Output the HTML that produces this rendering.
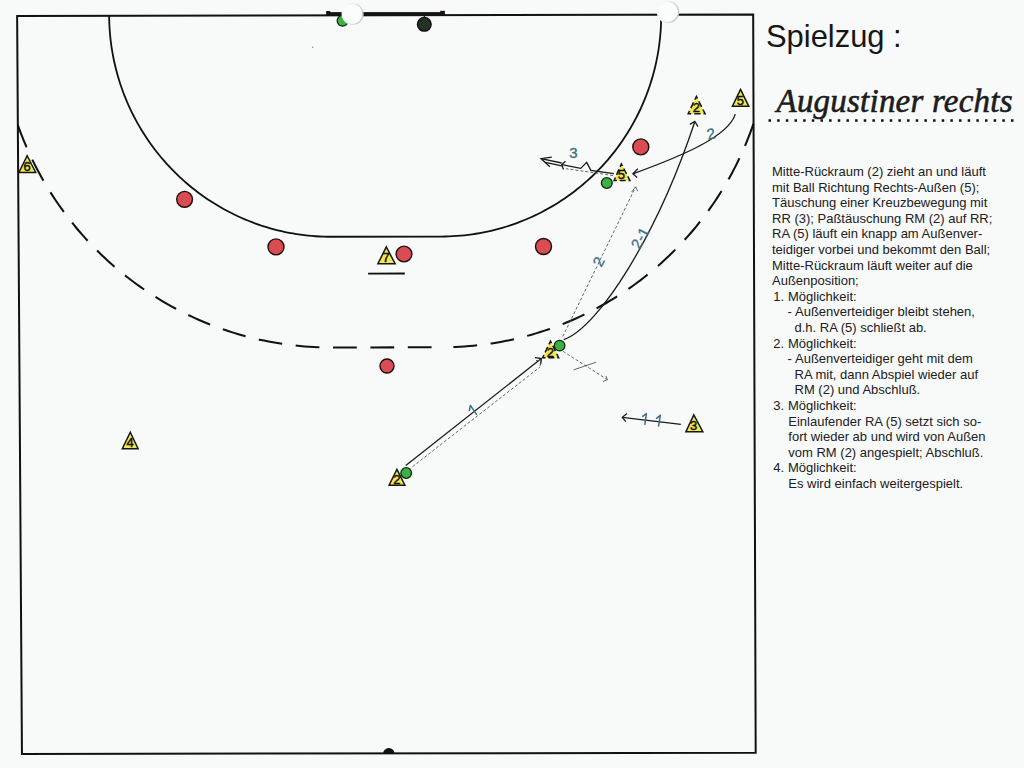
<!DOCTYPE html>
<html><head><meta charset="utf-8">
<style>
html,body{margin:0;padding:0;background:#f8f9f9;width:1024px;height:768px;overflow:hidden;}
svg{position:absolute;left:0;top:0;}
.dg{font-family:"Liberation Sans",sans-serif;font-size:13px;fill:#111;stroke:#111;stroke-width:0.45px;text-anchor:middle;}
.t{position:absolute;font-family:"Liberation Sans",sans-serif;color:#1e1e1e;white-space:pre;}
#title{left:766px;top:19px;font-size:30.9px;line-height:36px;color:#161616;}
#sub{left:776.5px;top:82px;font-family:"Liberation Serif",serif;font-style:italic;font-size:33px;line-height:38px;color:#1c1c1c;-webkit-text-stroke:0.6px #1c1c1c;letter-spacing:0.22px;}
.b{font-size:13px;line-height:15.63px;color:#202020;}
</style></head><body>
<svg width="1024" height="768" viewBox="0 0 1024 768">
<g fill="none" stroke="#111" stroke-width="1.8">
  <!-- court outline -->
  <path d="M17.13,15.96 L753.18,14.42 L755.69,752.80 L21.95,753.98 Z" stroke-width="2"/>
  <!-- goal area -->
  <path d="M109.14,15.77 L109.19,19.63 L109.32,23.49 L109.51,27.36 L109.77,31.21 L110.09,35.06 L110.49,38.91 L110.95,42.75 L111.47,46.58 L112.07,50.40 L112.73,54.21 L113.45,58.01 L114.24,61.79 L115.10,65.56 L116.02,69.32 L117.01,73.06 L118.06,76.78 L119.18,80.48 L120.36,84.17 L121.61,87.83 L122.91,91.47 L124.28,95.09 L125.72,98.68 L127.21,102.25 L128.77,105.79 L130.39,109.30 L132.07,112.79 L133.81,116.24 L135.61,119.67 L137.47,123.06 L139.39,126.42 L141.36,129.74 L143.39,133.03 L145.48,136.29 L147.63,139.51 L149.83,142.69 L152.08,145.83 L154.39,148.93 L156.76,151.99 L159.17,155.01 L161.64,157.99 L164.16,160.92 L166.73,163.81 L169.35,166.66 L172.01,169.46 L174.73,172.21 L177.49,174.91 L180.30,177.56 L183.16,180.17 L186.06,182.72 L189.00,185.23 L191.98,187.68 L195.01,190.08 L198.08,192.43 L201.19,194.72 L204.34,196.96 L207.52,199.14 L210.75,201.27 L214.01,203.34 L217.30,205.35 L220.63,207.31 L223.99,209.20 L227.39,211.04 L230.81,212.82 L234.27,214.53 L237.75,216.19 L241.27,217.79 L244.81,219.32 L248.37,220.79 L251.96,222.20 L255.58,223.55 L259.21,224.83 L262.87,226.05 L266.55,227.21 L270.25,228.30 L273.96,229.32 L277.70,230.28 L281.45,231.18 L285.21,232.01 L288.99,232.77 L292.78,233.47 L296.58,234.10 L300.39,234.66 L304.21,235.16 L308.04,235.59 L311.87,235.95 L315.71,236.25 L319.56,236.48 L323.40,236.64 L327.25,236.73 L331.10,236.76 L441.41,236.54 L445.26,236.50 L449.10,236.39 L452.95,236.22 L456.79,235.97 L460.63,235.66 L464.46,235.28 L468.28,234.84 L472.10,234.33 L475.90,233.75 L479.70,233.10 L483.48,232.39 L487.25,231.61 L491.01,230.77 L494.75,229.86 L498.47,228.88 L502.18,227.84 L505.86,226.74 L509.53,225.57 L513.18,224.34 L516.80,223.04 L520.40,221.68 L523.98,220.25 L527.53,218.77 L531.05,217.22 L534.55,215.61 L538.02,213.94 L541.46,212.21 L544.86,210.42 L548.24,208.56 L551.58,206.65 L554.89,204.69 L558.17,202.66 L561.41,200.58 L564.61,198.44 L567.77,196.24 L570.90,193.99 L573.99,191.68 L577.03,189.33 L580.03,186.91 L583.00,184.45 L585.91,181.93 L588.79,179.36 L591.62,176.75 L594.40,174.08 L597.14,171.37 L599.82,168.60 L602.46,165.79 L605.05,162.94 L607.59,160.04 L610.08,157.09 L612.52,154.11 L614.91,151.08 L617.24,148.00 L619.52,144.89 L621.74,141.74 L623.91,138.55 L626.03,135.32 L628.08,132.06 L630.08,128.76 L632.02,125.42 L633.91,122.05 L635.73,118.65 L637.50,115.22 L639.20,111.76 L640.85,108.26 L642.43,104.74 L643.95,101.20 L645.42,97.62 L646.81,94.02 L648.15,90.40 L649.42,86.75 L650.63,83.08 L651.77,79.39 L652.85,75.68 L653.87,71.96 L654.82,68.21 L655.70,64.45 L656.52,60.67 L657.28,56.89 L657.97,53.08 L658.59,49.27 L659.14,45.44 L659.63,41.61 L660.05,37.77 L660.41,33.92 L660.69,30.06 L660.92,26.21 L661.07,22.34 L661.15,18.48 L661.17,14.61"/>
  <!-- 7m line -->
  <path d="M368.06,273.60 L404.82,273.52"/>
</g>
<!-- goal -->
<rect x="326.2" y="12.1" width="118.7" height="3.4" fill="#141414"/>
<rect x="326.2" y="11" width="4.1" height="2" fill="#141414"/>
<rect x="440.2" y="10.8" width="4.7" height="2" fill="#141414"/>
<!-- 9m dashed line -->
<g fill="none" stroke="#111" stroke-width="2.05" stroke-dasharray="23.8 13.6">
  <path d="M17.84,125.11 L19.39,129.41 L21.00,133.68 L22.67,137.93 L24.40,142.16 L26.18,146.36 L28.02,150.54 L29.92,154.69 L31.88,158.82 L33.89,162.92 L35.95,166.99 L38.07,171.03 L40.25,175.05 L42.48,179.03 L44.77,182.98 L47.10,186.90 L49.50,190.79 L51.94,194.65 L54.44,198.47 L56.99,202.26 L59.59,206.01 L62.24,209.72 L64.94,213.40 L67.69,217.05 L70.49,220.65 L73.34,224.22 L76.24,227.74 L79.18,231.23 L82.17,234.67 L85.21,238.08 L88.30,241.44 L91.43,244.76 L94.60,248.03 L97.82,251.27 L101.09,254.46 L104.39,257.60 L107.74,260.69 L111.13,263.75 L114.56,266.75 L118.04,269.71 L121.55,272.61 L125.10,275.48 L128.69,278.29 L132.32,281.05 L135.98,283.76 L139.68,286.42 L143.42,289.03 L147.19,291.59 L151.00,294.09 L154.84,296.55 L158.71,298.95 L162.61,301.30 L166.55,303.59 L170.52,305.83 L174.51,308.01 L178.54,310.14 L182.59,312.21 L186.68,314.23 L190.78,316.19 L194.92,318.10 L199.08,319.94 L203.27,321.73 L207.47,323.46 L211.71,325.14 L215.96,326.75 L220.24,328.31 L224.53,329.81 L228.85,331.25 L233.18,332.62 L237.54,333.94 L241.91,335.20 L246.29,336.40 L250.70,337.54 L255.11,338.62 L259.55,339.63 L263.99,340.59 L268.45,341.48 L272.92,342.31 L277.40,343.09 L281.89,343.79 L286.38,344.44 L290.89,345.03 L295.40,345.55 L299.93,346.01 L304.45,346.41 L308.98,346.74 L313.52,347.02 L318.05,347.23 L322.59,347.38 L327.14,347.46 L331.68,347.48 L441.93,347.28"/>
  <path d="M753.55,123.63 L752.04,127.93 L750.47,132.21 L748.85,136.47 L747.16,140.70 L745.42,144.92 L743.62,149.10 L741.77,153.27 L739.85,157.40 L737.88,161.51 L735.86,165.59 L733.78,169.65 L731.64,173.67 L729.45,177.66 L727.20,181.63 L724.90,185.56 L722.55,189.46 L720.14,193.33 L717.69,197.16 L715.17,200.96 L712.61,204.72 L710.00,208.45 L707.33,212.14 L704.62,215.80 L701.85,219.41 L699.04,222.99 L696.18,226.53 L693.27,230.03 L690.31,233.49 L687.30,236.91 L684.25,240.28 L681.15,243.61 L678.01,246.90 L674.82,250.15 L671.59,253.35 L668.32,256.51 L665.00,259.62 L661.64,262.68 L658.24,265.70 L654.80,268.67 L651.31,271.60 L647.79,274.47 L644.23,277.30 L640.63,280.07 L636.99,282.80 L633.32,285.47 L629.61,288.10 L625.86,290.67 L622.08,293.19 L618.26,295.66 L614.42,298.08 L610.53,300.44 L606.62,302.75 L602.68,305.00 L598.70,307.20 L594.70,309.35 L590.66,311.44 L586.60,313.47 L582.51,315.45 L578.39,317.37 L574.25,319.23 L570.09,321.04 L565.89,322.79 L561.68,324.48 L557.44,326.11 L553.18,327.68 L548.90,329.20 L544.60,330.65 L540.28,332.05 L535.94,333.38 L531.58,334.66 L527.20,335.87 L522.81,337.03 L518.40,338.12 L513.98,339.15 L509.55,340.13 L505.10,341.04 L500.64,341.89 L496.17,342.67 L491.69,343.40 L487.19,344.06 L482.69,344.67 L478.18,345.21 L473.67,345.68 L469.15,346.10 L464.62,346.45 L460.09,346.74 L455.55,346.97 L451.01,347.13 L446.47,347.24 L441.93,347.28"/>
</g>
<!-- center mark -->
<path d="M383.12,753.69 A5.7,5.7 0 0 1 394.52,753.49 Z" fill="#111"/>

<!-- defenders red -->
<g fill="#da4c53" stroke="#1e0c0c" stroke-width="1.4">
  <circle cx="184.6" cy="199.3" r="7.9"/>
  <circle cx="276" cy="246.9" r="8"/>
  <circle cx="404" cy="254" r="7.9"/>
  <circle cx="543.5" cy="246.5" r="8.0"/>
  <circle cx="387" cy="366" r="7.0"/>
  <circle cx="640.8" cy="146.9" r="8"/>
</g>
<!-- goalkeeper -->
<circle cx="424.3" cy="24.3" r="6.9" fill="#243024" stroke="#0e0e0e" stroke-width="1.3"/>
<rect x="423.8" y="15" width="1.2" height="3" fill="#141414"/>

<!-- arrows / lines -->
<g fill="none" stroke="#1a1a1a" stroke-width="1.3">
  <!-- 1: bottom 2 to middle 2 -->
  <path d="M405.8,465.5 L541.3,358.6"/>
  <path d="M535,357.6 L541.3,358.6 L540.5,364.5"/>
  <!-- 2-1 curve -->
  <path d="M563.7,339.7 C599.1,327.2 657.6,233.9 694.8,121.7"/>
  <path d="M689.9,124.4 L694.8,121.5 L698,126.6"/>
  <!-- 2 curve from top-right 5 -->
  <path d="M735.3,114.1 C728.6,135.8 685.2,154.8 632.9,173.8"/>
  <path d="M637.9,168.8 L632.9,173.8 L637.2,177.4"/>
  <!-- 3 with zigzag -->
  <path d="M613.8,173.6 L590.9,170.3 L586.7,162.4 L580.7,168.4 L561.7,164.6"/>
  <path d="M561.7,163 L541,158.6 M545.5,162.4 L561.7,165.9"/>
  <path d="M551.8,157.1 L541,158.6 L549.9,166.8"/>
  <path d="M565.5,161.3 L561.7,164.7 L563.5,169.4"/>
  <!-- 1-1 arrow -->
  <path d="M680.9,424.3 L622.3,417.3"/>
  <path d="M627,413.5 L622.3,417.3 L625.8,421.7"/>
</g>
<!-- dashed pass lines -->
<g fill="none" stroke="#555" stroke-width="0.9" stroke-dasharray="3 2">
  <path d="M412.5,466.7 L540,367"/>
  <path d="M562.8,336.5 L635.6,187"/>
  <path d="M563,351.3 L607.4,379.6"/>
  <path d="M613,175.5 L566,168.7"/>
</g>
<g fill="none" stroke="#555" stroke-width="0.9">
  <path d="M536,360.5 L541.7,360.5 L540,366"/>
  <path d="M631.6,192 L635.6,186.8 L637.8,191.3"/>
  <path d="M603,381.5 L607.4,379.6 L606,376"/>
  <path d="M573.7,369.8 L596.2,362.2"/>
</g>

<!-- teal labels -->
<g fill="#3a6e83" stroke="#3a6e83" stroke-width="0.3" font-family="Liberation Sans" font-size="15" text-anchor="middle">
  <text x="573.3" y="157.9">3</text>
  <text x="711" y="139" transform="rotate(-12 711 134)">2</text>
  <text x="598.4" y="267" transform="rotate(-62 598.4 261.6)">2</text>
  <text x="640.3" y="243" transform="rotate(-62 640.3 238)">2-1</text>
</g>
<g fill="none" stroke="#3a6e83" stroke-width="1.5" stroke-linecap="round" stroke-linejoin="round">
  <path d="M469.4,410.4 L470.4,405.4 L476.5,414.3"/>
  <path d="M642.6,416.4 L646.4,413.5 L644.9,424.4"/>
  <path d="M656.5,418.4 L660.3,415.3 L658.6,426.1"/>
</g>

<!-- attackers yellow triangles -->
<path d="M27.20,155.72 L35.70,172.50 L18.90,172.50 Z" fill="#f1e74f" stroke="none"/>
<path d="M27.20,155.72 L35.70,172.50 L18.90,172.50 Z" fill="none" stroke="#151515" stroke-width="1.5"/>
<text x="27.1" y="171.2" class="dg">6</text>
<path d="M130.30,432.23 L138.10,448.70 L122.30,448.70 Z" fill="#f1e74f" stroke="none"/>
<path d="M130.30,432.23 L138.10,448.70 L122.30,448.70 Z" fill="none" stroke="#151515" stroke-width="1.5"/>
<text x="130.2" y="447.4" class="dg">4</text>
<path d="M386.30,246.93 L395.10,263.70 L377.90,263.70 Z" fill="#f1e74f" stroke="none"/>
<path d="M386.30,246.93 L395.10,263.70 L377.90,263.70 Z" fill="none" stroke="#151515" stroke-width="1.5"/>
<text x="386.2" y="262.4" class="dg">7</text>
<path d="M396.90,469.43 L404.90,485.20 L389.10,485.20 Z" fill="#f1e74f" stroke="none"/>
<path d="M396.90,469.43 L404.90,485.20 L389.10,485.20 Z" fill="none" stroke="#151515" stroke-width="1.5"/>
<text x="396.8" y="483.9" class="dg">2</text>
<path d="M550.50,341.12 L558.70,357.80 L542.60,357.80 Z" fill="#f1e74f" stroke="none"/>
<path d="M550.50,341.12 L558.70,357.80 L542.60,357.80 Z" fill="none" stroke="#151515" stroke-width="1.5" stroke-dasharray="6.04 2.84" stroke-dashoffset="3.73"/>
<text x="550.4" y="356.5" class="dg">2</text>
<path d="M621.40,163.93 L629.90,180.40 L614.10,180.40 Z" fill="#f1e74f" stroke="none"/>
<path d="M621.40,163.93 L629.90,180.40 L614.10,180.40 Z" fill="none" stroke="#151515" stroke-width="1.5" stroke-dasharray="5.99 2.82" stroke-dashoffset="3.70"/>
<text x="621.3" y="179.1" class="dg">5</text>
<path d="M696.40,96.42 L705.10,113.70 L688.20,113.70 Z" fill="#f1e74f" stroke="none"/>
<path d="M696.40,96.42 L705.10,113.70 L688.20,113.70 Z" fill="none" stroke="#151515" stroke-width="1.5" stroke-dasharray="6.30 2.96" stroke-dashoffset="3.89"/>
<text x="696.3" y="112.4" class="dg">2</text>
<path d="M740.50,89.42 L748.80,106.30 L732.40,106.30 Z" fill="#f1e74f" stroke="none"/>
<path d="M740.50,89.42 L748.80,106.30 L732.40,106.30 Z" fill="none" stroke="#151515" stroke-width="1.5"/>
<text x="740.4" y="105.0" class="dg">5</text>
<path d="M693.80,414.93 L702.80,431.70 L685.90,431.70 Z" fill="#f1e74f" stroke="none"/>
<path d="M693.80,414.93 L702.80,431.70 L685.90,431.70 Z" fill="none" stroke="#151515" stroke-width="1.5"/>
<text x="693.7" y="430.4" class="dg">3</text>
<!-- green balls / players -->
<g fill="#3fb044" stroke="#0c2a0c" stroke-width="1.3">
  <circle cx="406.2" cy="473" r="5.3"/>
  <circle cx="559.6" cy="345.6" r="5.3"/>
  <circle cx="606.8" cy="183" r="5.4"/>
  <circle cx="342.6" cy="20.8" r="5.4"/>
</g>

<!-- white punch circles -->
<defs><linearGradient id="wg" x1="0" y1="0" x2="1" y2="0.3"><stop offset="0" stop-color="#fafafa"/><stop offset="0.5" stop-color="#f0f0f0"/><stop offset="1" stop-color="#c8c8c8"/></linearGradient>
<filter id="bl" x="-20%" y="-20%" width="140%" height="140%"><feGaussianBlur stdDeviation="0.5"/></filter></defs>
<circle cx="352.6" cy="14" r="10.4" fill="#fbfcfc" stroke="url(#wg)" stroke-width="1.3" filter="url(#bl)"/>
<circle cx="668" cy="12" r="10.6" fill="#fbfcfc" stroke="url(#wg)" stroke-width="1.3" filter="url(#bl)"/>
<circle cx="312.7" cy="47.2" r="0.8" fill="#8a8a8a"/>
<!-- dotted underline -->
<path d="M768.5,120.5 L1014,120.5" stroke="#0e0e0e" stroke-width="2.6" stroke-dasharray="2.5 6.16" fill="none"/>
</svg>

<div class="t" id="title">Spielzug :</div>
<div class="t" id="sub">Augustiner rechts</div>
<div class="t b" style="left:772.0px;top:163.90px">Mitte-Rückraum (2) zieht an und läuft</div>
<div class="t b" style="left:772.0px;top:179.51px">mit Ball Richtung Rechts-Außen (5);</div>
<div class="t b" style="left:772.0px;top:195.12px">Täuschung einer Kreuzbewegung mit</div>
<div class="t b" style="left:772.0px;top:210.73px">RR (3); Paßtäuschung RM (2) auf RR;</div>
<div class="t b" style="left:772.0px;top:226.34px">RA (5) läuft ein knapp am Außenver-</div>
<div class="t b" style="left:772.0px;top:241.95px">teidiger vorbei und bekommt den Ball;</div>
<div class="t b" style="left:772.0px;top:257.56px">Mitte-Rückraum läuft weiter auf die</div>
<div class="t b" style="left:772.0px;top:273.17px">Außenposition;</div>
<div class="t b" style="left:773.3px;top:288.78px">1.</div><div class="t b" style="left:788px;top:288.78px">Möglichkeit:</div>
<div class="t b" style="left:787.6px;top:304.39px">-</div><div class="t b" style="left:795.0px;top:304.39px">Außenverteidiger bleibt stehen,</div>
<div class="t b" style="left:794.5px;top:320.00px">d.h. RA (5) schließt ab.</div>
<div class="t b" style="left:773.3px;top:335.61px">2.</div><div class="t b" style="left:788px;top:335.61px">Möglichkeit:</div>
<div class="t b" style="left:787.6px;top:351.22px">-</div><div class="t b" style="left:795.0px;top:351.22px">Außenverteidiger geht mit dem</div>
<div class="t b" style="left:794.5px;top:366.83px">RA mit, dann Abspiel wieder auf</div>
<div class="t b" style="left:794.5px;top:382.44px">RM (2) und Abschluß.</div>
<div class="t b" style="left:773.3px;top:398.05px">3.</div><div class="t b" style="left:788px;top:398.05px">Möglichkeit:</div>
<div class="t b" style="left:788.3px;top:413.66px">Einlaufender RA (5) setzt sich so-</div>
<div class="t b" style="left:788.3px;top:429.27px">fort wieder ab und wird von Außen</div>
<div class="t b" style="left:788.3px;top:444.88px">vom RM (2) angespielt; Abschluß.</div>
<div class="t b" style="left:773.3px;top:460.49px">4.</div><div class="t b" style="left:788px;top:460.49px">Möglichkeit:</div>
<div class="t b" style="left:788.3px;top:476.10px">Es wird einfach weitergespielt.</div>
</body></html>
